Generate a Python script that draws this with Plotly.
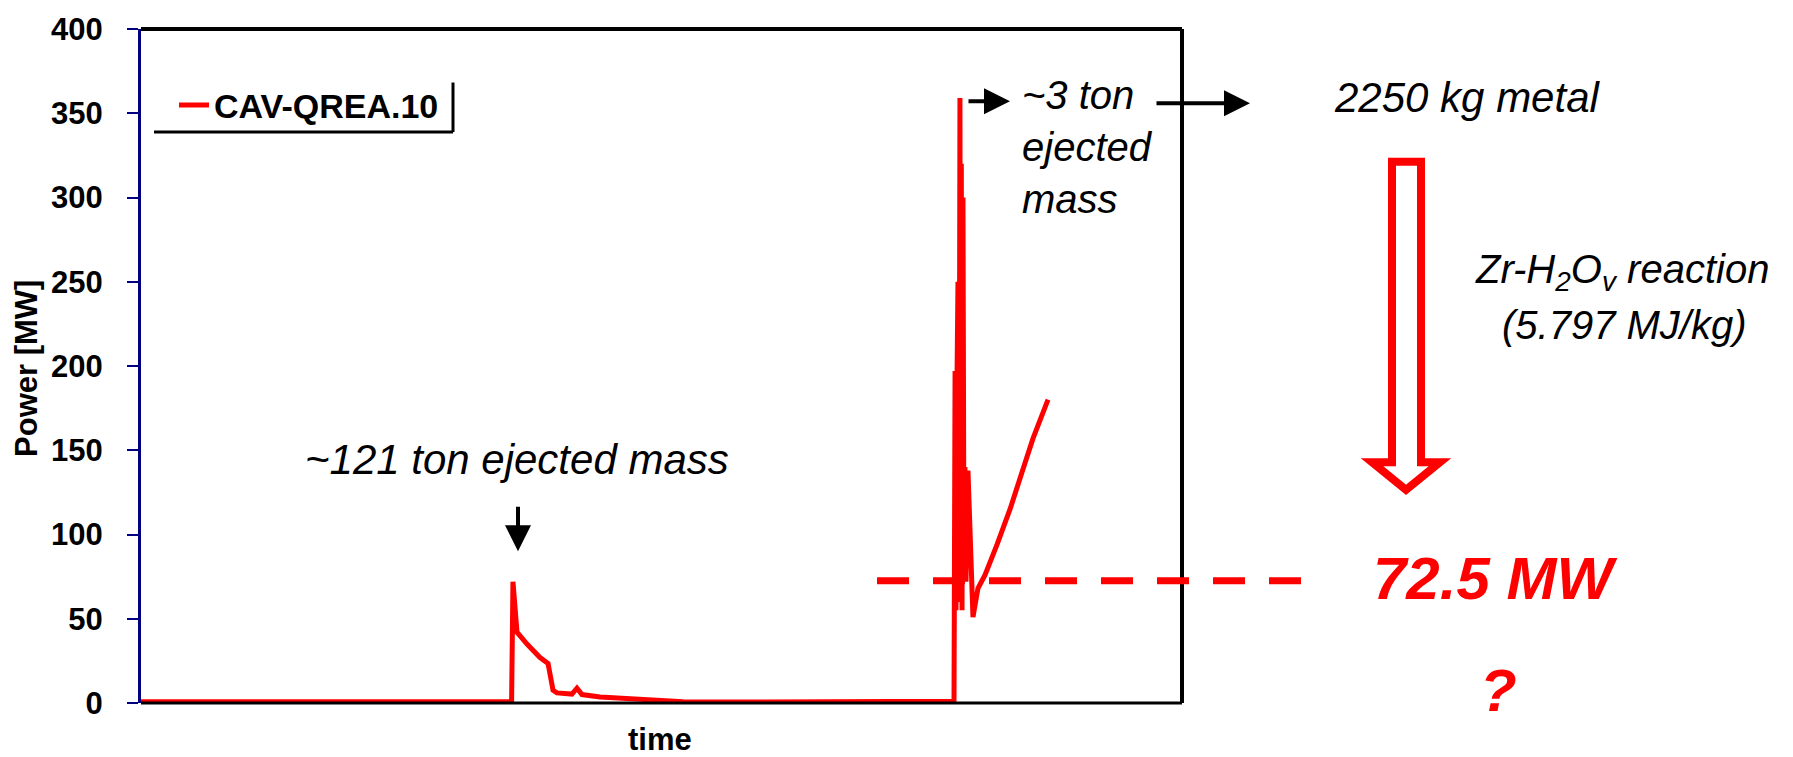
import plotly.graph_objects as go

# ---- data ----
time_pct = [0, 10, 20, 30, 35.6, 35.73, 36.12, 37.08, 38.33, 39.10,
            39.58, 39.96, 41.40, 41.88, 42.36, 44.09, 46.97, 48.90, 52.07, 60,
            70, 74, 76, 77, 78.0, 78.10, 78.20, 78.25, 78.29, 78.40, 78.48, 78.53, 78.58,
            78.67, 78.72, 78.80, 78.87, 78.96, 79.02, 79.06, 79.15, 79.25, 79.44, 79.64, 79.92, 80.40,
            81.08, 82.23, 83.48, 84.63, 85.69, 87.13]
power_mw = [0.8, 0.8, 0.8, 0.8, 0.8, 72, 42, 35, 27, 23.5,
            7.6, 6, 5.3, 8.8, 5, 3.5, 2.4, 1.5, 0.8, 0.6,
            0.6, 1.0, 1.2, 0.9, 1.3, 1.0, 197, 60, 55, 200, 250, 70, 60,
            359, 120, 320, 55, 300, 90, 72, 140, 72, 138, 100, 51, 68,
            76, 94, 115, 137, 157, 180]
y_ticks = [0, 50, 100, 150, 200, 250, 300, 350, 400]
series_name = "CAV-QREA.10"
threshold_mw = 72.5
Y_MAX = 400

W, H = 1793, 757
L, R, T, B = 141, 1182, 23, 703  # plot area in pixels


def px(xp):
    return (xp - L) / (R - L)


def py(yp):
    return (B - yp) / (B - T)


FONT = "Liberation Sans, Arial, sans-serif"
RED = "#FF0000"

fig = go.Figure()
fig.add_trace(go.Scatter(
    x=time_pct, y=power_mw, mode="lines", name=series_name,
    line=dict(color=RED, width=5), cliponaxis=False,
))

shapes = []
# plot frame: top, right, bottom (black)
shapes.append(dict(type="line", xref="paper", yref="paper", x0=0, x1=1, y0=1, y1=1,
                   line=dict(color="black", width=4)))
shapes.append(dict(type="line", xref="paper", yref="paper", x0=1, x1=1, y0=0, y1=1,
                   line=dict(color="black", width=4)))
shapes.append(dict(type="line", xref="paper", yref="paper", x0=0, x1=1, y0=0, y1=0,
                   line=dict(color="black", width=3)))
# legend frame (bottom + right)
shapes.append(dict(type="line", xref="paper", yref="paper", x0=px(154), x1=px(453),
                   y0=py(127), y1=py(127), line=dict(color="black", width=3)))
shapes.append(dict(type="line", xref="paper", yref="paper", x0=px(453), x1=px(453),
                   y0=py(77), y1=py(127), line=dict(color="black", width=3)))
# dashed threshold line
shapes.append(dict(type="line", xref="paper", yref="paper", x0=px(877), x1=px(1302),
                   y0=threshold_mw / Y_MAX, y1=threshold_mw / Y_MAX,
                   line=dict(color=RED, width=7, dash="32px,24px")))
# hollow red arrow
pts = [(1392, 157), (1421, 157), (1421, 460), (1440, 460), (1406, 488),
       (1372, 460), (1392, 460)]
path = "M " + " L ".join(f"{px(a):.5f},{py(b):.5f}" for a, b in pts) + " Z"
shapes.append(dict(type="path", xref="paper", yref="paper", path=path,
                   line=dict(color=RED, width=8), fillcolor="rgba(0,0,0,0)"))

ann = []
txt = dict(family=FONT, size=42, color="black")
txt3 = dict(family=FONT, size=40, color="black")
ann.append(dict(xref="paper", yref="paper", x=px(517), y=py(457), text="<i>~121 ton ejected mass</i>",
                showarrow=False, font=txt, xanchor="center", yanchor="middle"))
ann.append(dict(xref="paper", yref="paper", x=px(1020), y=py(142),
                text="<i>~3 ton<br>ejected<br>mass</i>", align="left",
                showarrow=False, font=txt3, xanchor="left", yanchor="middle"))
ann.append(dict(xref="paper", yref="paper", x=px(1467), y=py(92), text="<i>2250 kg metal</i>",
                showarrow=False, font=txt, xanchor="center", yanchor="middle"))
ann.append(dict(xref="paper", yref="paper", x=px(1622), y=py(268),
                text="<i>Zr-H<sub>2</sub>O<sub>v</sub> reaction</i>",
                showarrow=False, font=txt3, xanchor="center", yanchor="middle"))
ann.append(dict(xref="paper", yref="paper", x=px(1624), y=py(322), text="<i>(5.797 MJ/kg)</i>",
                showarrow=False, font=txt3, xanchor="center", yanchor="middle"))
big = dict(family=FONT, size=60, color=RED)
ann.append(dict(xref="paper", yref="paper", x=px(1495), y=threshold_mw / Y_MAX + 0.004,
                text="<b><i>72.5 MW</i></b>",
                showarrow=False, font=big, xanchor="center", yanchor="middle"))
ann.append(dict(xref="paper", yref="paper", x=px(1498), y=py(690), text="<b><i>?</i></b>",
                showarrow=False, font=big, xanchor="center", yanchor="middle"))
# axis titles
ann.append(dict(xref="paper", yref="paper", x=px(27), y=py(366), text="<b>Power [MW]</b>",
                textangle=-90, showarrow=False,
                font=dict(family=FONT, size=31, color="black"),
                xanchor="center", yanchor="middle"))
ann.append(dict(xref="paper", yref="paper", x=px(660), y=py(740), text="<b>time</b>",
                showarrow=False, font=dict(family=FONT, size=31, color="black"),
                xanchor="center", yanchor="middle"))
# black arrows
arr = dict(showarrow=True, arrowhead=2, arrowsize=1.3, arrowwidth=4, arrowcolor="black",
           text="", xref="paper", yref="paper", axref="pixel", ayref="pixel")
ann.append(dict(arr, x=px(518), y=py(550), ax=0, ay=-46))
ann.append(dict(arr, x=px(1010), y=py(96), ax=-43, ay=0))
ann.append(dict(arr, x=px(1250), y=py(98), ax=-95, ay=0))

fig.update_layout(
    width=W, height=H,
    margin=dict(l=L, r=W - R, t=T, b=H - B),
    paper_bgcolor="white", plot_bgcolor="white",
    font=dict(family=FONT, color="black"),
    shapes=shapes, annotations=ann,
    showlegend=True,
    legend=dict(x=px(174), y=py(100), xanchor="left", yanchor="middle",
                bgcolor="rgba(0,0,0,0)", borderwidth=0,
                font=dict(family=FONT, size=34, color="black"),
                itemwidth=30),
    xaxis=dict(range=[0, 100], showticklabels=False, ticks="", showgrid=False,
               zeroline=False, showline=False),
    yaxis=dict(range=[0, Y_MAX], tickvals=y_ticks, ticktext=[f"<b>{v}</b>" for v in y_ticks],
               ticks="outside", ticklen=11, tickwidth=2, tickcolor="#000080",
               showline=True, linecolor="#000080", linewidth=3,
               showgrid=False, zeroline=False, ticklabelstandoff=18,
               tickfont=dict(family=FONT, size=31, color="black")),
)
fig.data[0].name = f"<b>{series_name}</b>"

fig.write_html("out.html")
